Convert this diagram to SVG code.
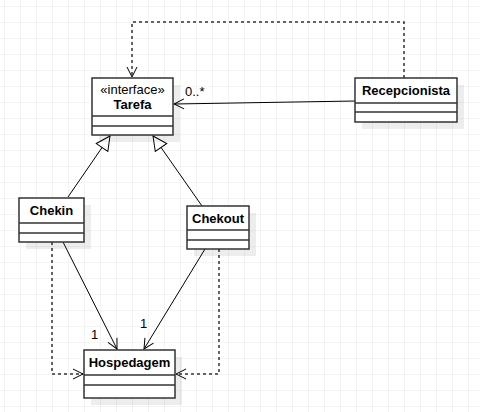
<svg xmlns="http://www.w3.org/2000/svg" width="480" height="412" viewBox="0 0 480 412">
<defs>
<pattern id="grid" x="4" y="6" width="16" height="16" patternUnits="userSpaceOnUse">
<path d="M0 0H16M0 0V16" fill="none" stroke="#ebebeb" stroke-width="1.2"/>
</pattern>
<marker id="open" viewBox="0 0 12 12" refX="11" refY="6" markerWidth="12" markerHeight="12" markerUnits="userSpaceOnUse" orient="auto">
<path d="M1 1L11 6L1 11" fill="none" stroke="#000" stroke-width="1"/>
</marker>
<marker id="tri" viewBox="0 0 16 16" refX="15" refY="8" markerWidth="16" markerHeight="16" markerUnits="userSpaceOnUse" orient="auto">
<path d="M1 1L15 8L1 15Z" fill="#fff" stroke="#000" stroke-width="1"/>
</marker>
<style>
.box{fill:#fff;stroke:#333;stroke-width:1.5}
.sh{fill:#000;opacity:0.07}
.div{stroke:#333;stroke-width:1.5}
.t{font-family:"Liberation Sans",Arial,sans-serif;font-size:13px;fill:#000}
.b{font-weight:bold}
.ln{fill:none;stroke:#000;stroke-width:1}
.dash{fill:none;stroke:#333;stroke-width:1.5;stroke-dasharray:3 3}
</style>
</defs>
<rect width="480" height="412" fill="#fff"/>
<rect width="480" height="412" fill="url(#grid)"/>
<g id="connectors">
<path class="dash" d="M404 78V22H132V77" marker-end="url(#open)"/>
<path class="ln" d="M355 101L174 104" marker-end="url(#open)"/>
<text class="t" x="185" y="96">0..*</text>
<path class="ln" d="M68 197L110 136" marker-end="url(#tri)"/>
<path class="ln" d="M202 206L153 136" marker-end="url(#tri)"/>
<path class="ln" d="M63 242L117 349" marker-end="url(#open)"/>
<path class="ln" d="M205 249L144 349" marker-end="url(#open)"/>
<text class="t" x="91" y="339">1</text>
<text class="t" x="140" y="328">1</text>
<path class="dash" d="M52 242V374H83" marker-end="url(#open)"/>
<path class="dash" d="M219 249V374H176" marker-end="url(#open)"/>
</g>
<g id="tarefa">
<rect class="sh" x="99" y="85" width="81" height="57"/>
<rect class="box" x="92" y="78" width="81" height="57"/>
<line class="div" x1="92" y1="116" x2="173" y2="116"/>
<line class="div" x1="92" y1="126" x2="173" y2="126"/>
<text class="t" x="132.5" y="94" text-anchor="middle">«interface»</text>
<text class="t b" x="132.5" y="109" text-anchor="middle">Tarefa</text>
</g>
<g id="recepcionista">
<rect class="sh" x="362" y="85" width="102" height="44"/>
<rect class="box" x="355" y="78" width="102" height="44"/>
<line class="div" x1="355" y1="103" x2="457" y2="103"/>
<line class="div" x1="355" y1="112" x2="457" y2="112"/>
<text class="t b" x="406" y="95" text-anchor="middle">Recepcionista</text>
</g>
<g id="chekin">
<rect class="sh" x="26" y="205" width="65" height="44"/>
<rect class="box" x="19" y="198" width="65" height="44"/>
<line class="div" x1="19" y1="223" x2="84" y2="223"/>
<line class="div" x1="19" y1="233" x2="84" y2="233"/>
<text class="t b" x="51.5" y="215" text-anchor="middle">Chekin</text>
</g>
<g id="chekout">
<rect class="sh" x="194" y="213" width="62" height="43"/>
<rect class="box" x="187" y="206" width="62" height="43"/>
<line class="div" x1="187" y1="230" x2="249" y2="230"/>
<line class="div" x1="187" y1="240" x2="249" y2="240"/>
<text class="t b" x="218" y="223" text-anchor="middle">Chekout</text>
</g>
<g id="hospedagem">
<rect class="sh" x="91" y="357" width="91" height="48"/>
<rect class="box" x="84" y="350" width="91" height="48"/>
<line class="div" x1="84" y1="375" x2="175" y2="375"/>
<line class="div" x1="84" y1="385" x2="175" y2="385"/>
<text class="t b" x="129.5" y="367" text-anchor="middle">Hospedagem</text>
</g>
</svg>
